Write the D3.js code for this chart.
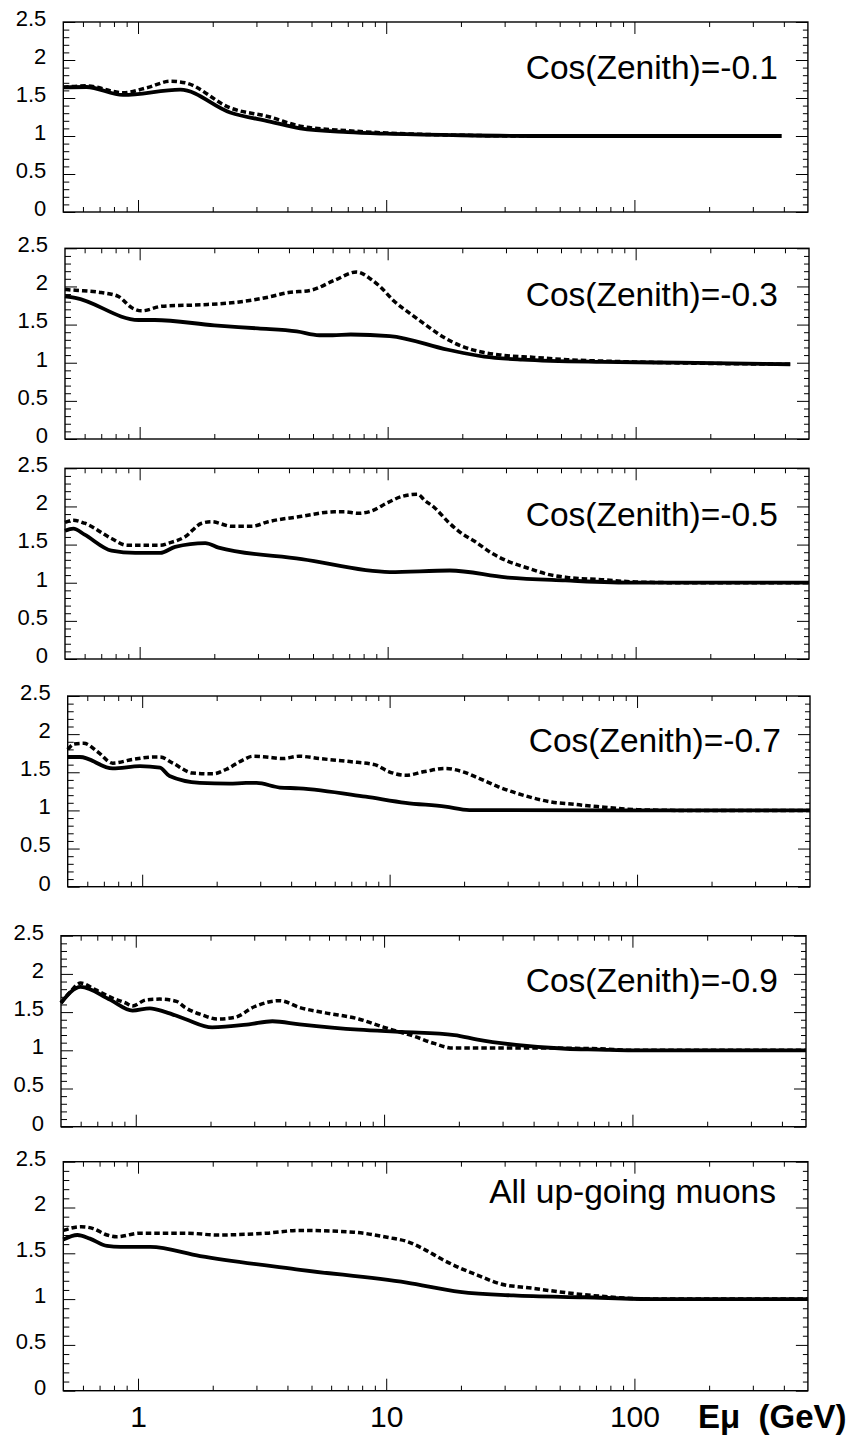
<!DOCTYPE html>
<html><head><meta charset="utf-8">
<script src="https://cdn.jsdelivr.net/npm/d3@7"></script>
<style>body{margin:0;background:#fff}svg{display:block}</style>
</head><body>
<svg id="chart" width="858" height="1439"></svg>
<script>
// ---------------- data ----------------
const panelLabels = ["Cos(Zenith)=-0.1","Cos(Zenith)=-0.3","Cos(Zenith)=-0.5","Cos(Zenith)=-0.7","Cos(Zenith)=-0.9","All up-going muons"];
const xDomain = [0.5, 500];
const yDomain = [0, 2.5];
const xMajorTicks = [1, 10, 100];
const xMinorTicks = [0.6,0.7,0.8,0.9,2,3,4,5,6,7,8,9,20,30,40,50,60,70,80,90,200,300,400];
const xTickLabels = ["1","10","100"];
const xAxisTitle = "Eμ  (GeV)";
const yMajorTicks = [0,0.5,1,1.5,2,2.5];
const yMinorTicks = [0.1,0.2,0.3,0.4,0.6,0.7,0.8,0.9,1.1,1.2,1.3,1.4,1.6,1.7,1.8,1.9,2.1,2.2,2.3,2.4];
const yTickLabels = ["0","0.5","1","1.5","2","2.5"];

// [E (GeV), ratio]
const solid1 = [[0.5,1.64],[0.62,1.645],[0.87,1.54],[1.48,1.61],[2.35,1.31],[3.4,1.19],[4.5,1.10],[7,1.05],[10,1.03],[20,1.01],[40,1.0],[392,1.0]];
const dashed1 = [[0.5,1.64],[0.62,1.66],[0.87,1.57],[1.1,1.64],[1.35,1.72],[1.55,1.70],[2.35,1.37],[3.4,1.25],[4.5,1.13],[7,1.07],[10,1.04],[20,1.01],[40,1.0],[392,1.0]];

const solid2 = [[0.5,1.87],[0.55,1.85],[0.99,1.56],[1.15,1.56],[2,1.49],[3,1.45],[4.3,1.41],[5.3,1.36],[6,1.36],[7.1,1.37],[10.2,1.35],[17.5,1.17],[24.5,1.08],[35,1.04],[73,1.01],[150,1.0],[420,0.98]];
const dashed2 = [[0.5,1.96],[0.55,1.95],[0.7,1.92],[0.82,1.87],[0.93,1.72],[1.02,1.68],[1.23,1.74],[1.78,1.76],[2.42,1.79],[3.3,1.86],[3.98,1.92],[4.9,1.95],[6.1,2.08],[7.5,2.19],[8.6,2.09],[9.3,2.0],[10.6,1.81],[12.5,1.63],[14.6,1.47],[16.9,1.33],[19.8,1.22],[23.9,1.14],[28.7,1.10],[39,1.07],[53,1.04],[100,1.01],[420,0.98]];

const solid3 = [[0.5,1.68],[0.54,1.71],[0.6,1.63],[0.77,1.42],[0.96,1.39],[1.21,1.39],[1.39,1.47],[1.84,1.52],[2.08,1.46],[4.5,1.31],[10.2,1.14],[17.8,1.16],[30,1.07],[52,1.03],[100,1.0],[500,1.0]];
const dashed3 = [[0.5,1.79],[0.54,1.82],[0.6,1.78],[0.77,1.58],[0.89,1.49],[1.21,1.49],[1.31,1.52],[1.52,1.60],[1.78,1.78],[1.95,1.80],[2.35,1.74],[2.83,1.74],[3.3,1.80],[4.5,1.87],[6.1,1.93],[6.7,1.93],[7.6,1.91],[8.6,1.94],[10,2.05],[11.4,2.13],[13.2,2.16],[14.1,2.08],[15.5,1.98],[17.5,1.80],[19.8,1.65],[22.5,1.54],[26.2,1.39],[30.6,1.28],[36.9,1.19],[44.3,1.11],[53,1.07],[72.7,1.04],[100,1.01],[150,1.0],[500,1.0]];

const solid4 = [[0.5,1.70],[0.56,1.70],[0.76,1.55],[0.98,1.58],[1.18,1.56],[1.29,1.45],[1.71,1.36],[2.25,1.35],[2.63,1.36],[2.9,1.36],[3.6,1.30],[4.3,1.29],[8,1.18],[11.6,1.10],[16.8,1.05],[21,1.005],[500,1.0]];
const dashed4 = [[0.5,1.80],[0.53,1.87],[0.58,1.88],[0.66,1.77],[0.76,1.62],[0.92,1.67],[1.11,1.70],[1.18,1.70],[1.33,1.62],[1.6,1.49],[1.93,1.48],[2.19,1.54],[2.55,1.66],[2.8,1.71],[3.17,1.70],[3.7,1.68],[4.3,1.71],[5.2,1.68],[6.9,1.64],[8.7,1.60],[9.9,1.51],[11.6,1.46],[13.9,1.51],[16.8,1.55],[19.6,1.51],[23,1.42],[27.5,1.31],[35.5,1.19],[45,1.11],[55.5,1.08],[69,1.05],[100,1.01],[150,1.0],[500,1.0]];

const solid5 = [[0.5,1.62],[0.6,1.83],[0.79,1.66],[0.97,1.52],[1.14,1.55],[1.32,1.50],[1.58,1.41],[2.03,1.30],[2.86,1.34],[3.55,1.38],[4.57,1.34],[7.9,1.27],[11.8,1.24],[19.2,1.20],[23.8,1.14],[34,1.07],[54,1.02],[73,1.01],[100,1.0],[500,1.0]];
const dashed5 = [[0.5,1.62],[0.54,1.75],[0.6,1.88],[0.69,1.79],[0.81,1.68],[0.91,1.62],[0.97,1.58],[1.1,1.66],[1.25,1.67],[1.46,1.64],[1.58,1.56],[1.86,1.46],[2.13,1.41],[2.5,1.43],[3.0,1.57],[3.8,1.65],[4.57,1.56],[5.8,1.49],[7.9,1.41],[10,1.30],[13.3,1.18],[15.9,1.09],[18.9,1.03],[40,1.03],[73,1.02],[100,1.0],[500,1.0]];

const solid6 = [[0.5,1.65],[0.57,1.70],[0.64,1.66],[0.75,1.58],[0.85,1.57],[1.12,1.57],[1.78,1.47],[4.5,1.32],[12.1,1.18],[19.8,1.08],[32.5,1.04],[63,1.02],[121,1.0],[500,1.0]];
const dashed6 = [[0.5,1.75],[0.59,1.79],[0.66,1.77],[0.75,1.70],[0.82,1.68],[1.02,1.72],[1.57,1.72],[2.08,1.70],[3.3,1.72],[4.5,1.75],[7.4,1.73],[10.3,1.67],[12.1,1.63],[14.3,1.54],[16.9,1.43],[19.8,1.34],[23.4,1.26],[28.5,1.17],[38.4,1.12],[53,1.07],[74,1.03],[121,1.0],[500,1.0]];

const solidSeries = [solid1, solid2, solid3, solid4, solid5, solid6];
const dashedSeries = [dashed1, dashed2, dashed3, dashed4, dashed5, dashed6];

// ---------------- layout ----------------
const panelLeft   = [63.3, 65, 65, 67.7, 61, 63.3];
const panelRight  = [807.9, 809, 809, 810, 806, 807.9];
const panelTop    = [22, 248.3, 468.3, 696, 935.7, 1161.7];
const panelBottom = [212, 439, 659, 886.7, 1126.7, 1390.7];
const labelBaseline = [79, 305.7, 525.7, 752.3, 991.7, 1202.7];
const labelRight = [778, 778, 778, 781, 778, 776];
const FONT = "'Liberation Sans', Arial, Helvetica, sans-serif";

const svg = d3.select("#chart");

function styleAxis(g) {
  g.select(".domain").remove();
  g.selectAll(".tick line").attr("stroke", "#000").attr("stroke-width", 1);
  g.attr("font-family", FONT);
}

for (let i = 0; i < 6; i++) {
  const L = panelLeft[i], T = panelTop[i], B = panelBottom[i], R = panelRight[i];
  const x = d3.scaleLog().domain(xDomain).range([L, R]);
  const y = d3.scaleLinear().domain(yDomain).range([B, T]);
  const g = svg.append("g");

  // ticks
  g.append("g").attr("transform", `translate(0,${T})`)
    .call(d3.axisTop(x).tickValues(xMajorTicks).tickSizeInner(-12).tickSizeOuter(0).tickFormat(""))
    .call(styleAxis);
  g.append("g").attr("transform", `translate(0,${T})`)
    .call(d3.axisTop(x).tickValues(xMinorTicks).tickSizeInner(-5).tickSizeOuter(0).tickFormat(""))
    .call(styleAxis);
  const bot = g.append("g").attr("transform", `translate(0,${B})`)
    .call(d3.axisBottom(x).tickValues(xMajorTicks).tickSizeInner(-12).tickSizeOuter(0).tickPadding(15)
      .tickFormat((d, k) => i === 5 ? xTickLabels[k] : ""))
    .call(styleAxis);
  bot.selectAll("text").attr("font-size", 30).attr("fill", "#000");
  g.append("g").attr("transform", `translate(0,${B})`)
    .call(d3.axisBottom(x).tickValues(xMinorTicks).tickSizeInner(-5).tickSizeOuter(0).tickFormat(""))
    .call(styleAxis);

  const left = g.append("g").attr("transform", `translate(${L},0)`)
    .call(d3.axisLeft(y).tickValues(yMajorTicks).tickSizeInner(-12).tickSizeOuter(0).tickPadding(17)
      .tickFormat((d, k) => yTickLabels[k]))
    .call(styleAxis);
  left.selectAll("text").attr("font-size", 22).attr("fill", "#000").attr("dy", "0.15em");
  g.append("g").attr("transform", `translate(${L},0)`)
    .call(d3.axisLeft(y).tickValues(yMinorTicks).tickSizeInner(-6).tickSizeOuter(0).tickFormat(""))
    .call(styleAxis);
  g.append("g").attr("transform", `translate(${R},0)`)
    .call(d3.axisRight(y).tickValues(yMajorTicks).tickSizeInner(-12).tickSizeOuter(0).tickFormat(""))
    .call(styleAxis);
  g.append("g").attr("transform", `translate(${R},0)`)
    .call(d3.axisRight(y).tickValues(yMinorTicks).tickSizeInner(-5).tickSizeOuter(0).tickFormat(""))
    .call(styleAxis);

  // frame
  g.append("rect").attr("x", L).attr("y", T).attr("width", R - L).attr("height", B - T)
    .attr("fill", "none").attr("stroke", "#000").attr("stroke-width", 1.4);

  const line = d3.line().x(d => x(d[0])).y(d => y(d[1])).curve(d3.curveMonotoneX);

  g.append("path").datum(solidSeries[i]).attr("d", line)
    .attr("fill", "none").attr("stroke", "#000").attr("stroke-width", 3.8).attr("stroke-linejoin", "round");
  g.append("path").datum(dashedSeries[i]).attr("d", line)
    .attr("fill", "none").attr("stroke", "#000").attr("stroke-width", 3.5).attr("stroke-dasharray", "5.5,3");

  g.append("text").attr("x", labelRight[i]).attr("y", labelBaseline[i])
    .attr("text-anchor", "end").attr("font-family", FONT).attr("font-size", 33.5).attr("fill", "#000")
    .text(panelLabels[i]);
}

svg.append("text").attr("x", 698).attr("y", 1428)
  .attr("font-family", FONT).attr("font-size", 33).attr("font-weight", "bold").attr("fill", "#000")
  .attr("xml:space", "preserve").style("white-space", "pre")
  .text(xAxisTitle);
</script>
</body></html>
